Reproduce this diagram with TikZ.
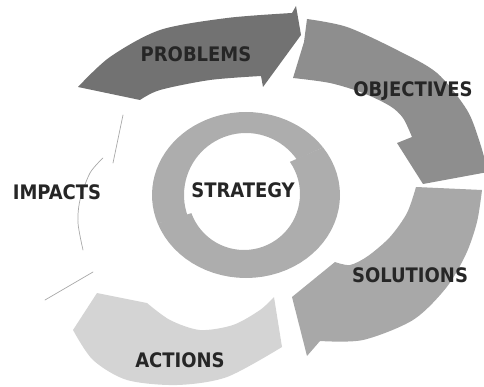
\documentclass[tikz,border=0pt]{standalone}
\usepackage{fontspec}
\setmainfont{DejaVu Sans}
\newfontfamily\lblfont{DejaVu Sans Condensed}
\definecolor{probc}{HTML}{727272}
\definecolor{objc}{HTML}{8E8E8E}
\definecolor{solc}{HTML}{A8A8A8}
\definecolor{actc}{HTML}{D4D4D4}
\definecolor{ringc}{HTML}{ADADAD}
\definecolor{faint}{HTML}{A8A8A8}
\tikzset{
  lbl/.style={font=\lblfont\bfseries\fontsize{20}{24}\selectfont, text=black!85, inner sep=0pt, anchor=base},
  trace/.style={faint, line width=0.7pt, line cap=round},
}
\begin{document}
\begin{tikzpicture}[x=1pt,y=-1pt]
  \useasboundingbox (0,0) rectangle (484,387);
  \clip (0,0) rectangle (484,387);
  % outer cycle
  \fill[probc] plot[smooth] coordinates {(78,87) (110,57) (160,30) (227,18) (292,13)} -- (296,6) -- (301,35) -- (263,87) -- (261,76)
    -- plot[smooth] coordinates {(261,76) (210,80) (160,90) (140,100)} -- cycle;
  \fill[objc] plot[smooth] coordinates {(307,19) (347,27) (397,50) (437,73) (467,110) (480,143) (488,172)} -- (423,184) -- (397,143) -- (412,137)
    -- plot[smooth] coordinates {(412,137) (403,118) (390,106) (363,93) (330,83) (293,78)} -- (304,42) -- cycle;
  \fill[solc] (416,187) -- (482,190) -- plot[smooth] coordinates {(482,190) (477,222) (466,254) (446,288) (413,320) (363,340) (320,341)}
    -- (307,356) -- (292,297) -- (335,262) -- plot[smooth] coordinates {(335,262) (350,265) (368,256) (390,237) (407,213) (416,187)} -- cycle;
  \fill[actc] (274,297) -- (282,347) -- plot[smooth] coordinates {(282,347) (227,377) (177,385) (127,380) (93,360) (73,330)}
    -- (97,293) -- (147,303) -- plot[smooth] coordinates {(147,303) (170,320) (200,330) (233,325) (260,310) (274,297)} -- cycle;
  % what is left of the impacts arrow
  \draw[trace] (123,115) -- (113,163);
  \draw[trace] plot[smooth] coordinates {(103,158) (90,173) (80,200) (78,223) (83,250)};
  \draw[trace] (93,272) -- (45,300);
  % inner ring, two bands
  \foreach \from/\to/\cx/\cy/\ri in {-35/160/244/194/56, -200/-35/246/195/62}
    \fill[ringc] plot[domain=\from:\to, samples=40] ({246+94*cos(\x)}, {195+83*sin(\x)})
      -- plot[domain=\to:\from, samples=40] ({\cx+\ri*cos(\x)}, {\cy+\ri*sin(\x)}) -- cycle;
  \node[lbl] (problems) at (196,62) {PROBLEMS};
  \node[lbl] (objectives) at (413,97) {OBJECTIVES};
  \node[lbl] (solutions) at (410,282) {SOLUTIONS};
  \node[lbl] (actions) at (180,367) {ACTIONS};
  \node[lbl] (impacts) at (57,200) {IMPACTS};
  \node[lbl] (strategy) at (243,198) {STRATEGY};
\end{tikzpicture}
\end{document}
